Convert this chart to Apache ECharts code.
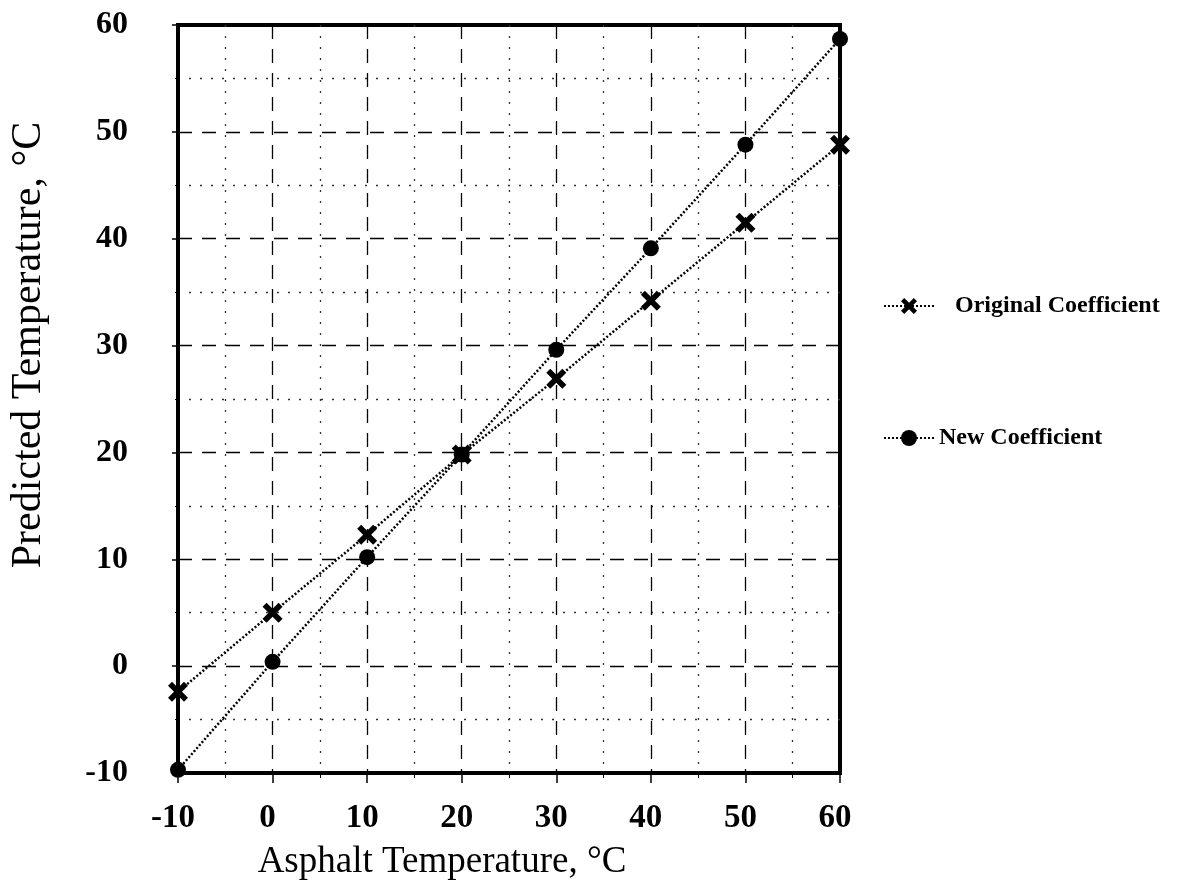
<!DOCTYPE html>
<html>
<head>
<meta charset="utf-8">
<script src="https://cdn.jsdelivr.net/npm/echarts@6/dist/echarts.min.js"></script>
<style>
    html, body { margin: 0; padding: 0; background: #fff; }
    #chart { width: 1185px; height: 888px; }
</style>
</head>
<body>
<div id="chart"></div>
<script>
// asphalt temperature (x) and the two predicted series
var asphaltTemp = [-10, 0, 10, 20, 30, 40, 50, 60];
var originalCoef = [-2.4, 5.0, 12.3, 19.8, 26.9, 34.2, 41.5, 48.8];
var newCoef = [-9.7, 0.4, 10.2, 19.8, 29.6, 39.1, 48.8, 58.7];
var seriesNames = ['Original Coefficient', 'New Coefficient'];

// thick "x" marker like the scanned figure
var crossPath = 'path://M0,2 L2,0 L5,3 L8,0 L10,2 L7,5 L10,8 L8,10 L5,7 L2,10 L0,8 L3,5 Z';

function pairs(ys) {
    return asphaltTemp.map(function (x, i) { return [x, ys[i]]; });
}

var chart = echarts.init(document.getElementById('chart'));

var fontFam = '"Liberation Serif", "Times New Roman", serif';

var legendText = {
    fontFamily: fontFam,
    fontWeight: 'bold',
    fontSize: 24,
    color: '#000'
};

var option = {
    animation: false,
    backgroundColor: '#fff',
    grid: {
        left: 177,
        right: 345,
        top: 25,
        bottom: 115,
        show: true,
        borderColor: '#000',
        borderWidth: 4
    },
    legend: [
        {
            left: 878,
            top: 289,
            itemWidth: 50,
            itemHeight: 20,
            textStyle: Object.assign({ padding: [0, 0, 0, 16] }, legendText),
            data: [seriesNames[0]]
        },
        {
            left: 878,
            top: 421,
            itemWidth: 50,
            itemHeight: 20,
            textStyle: legendText,
            data: [seriesNames[1]]
        }
    ],
    xAxis: {
        type: 'value',
        min: -10,
        max: 60,
        interval: 10,
        name: 'Asphalt Temperature, \u00B0C',
        nameLocation: 'middle',
        nameGap: 71,
        nameTextStyle: { fontFamily: fontFam, fontSize: 37, color: '#000', padding: [0, 134, 0, 0] },
        axisLine: { show: true, onZero: false, lineStyle: { color: '#000', width: 4 } },
        axisTick: { show: true, inside: false, length: 10, lineStyle: { color: '#000', width: 1.5 } },
        minorTick: { show: true, splitNumber: 2, length: 5, lineStyle: { color: '#000' } },
        axisLabel: {
            margin: 29,
            fontFamily: fontFam,
            fontWeight: 'bold',
            fontSize: 33,
            color: '#000',
            padding: [0, 10, 0, 0]
        },
        splitLine: { show: true, lineStyle: { color: '#000', type: [14, 10], width: 1.3 } },
        minorSplitLine: { show: true, lineStyle: { color: '#333', type: [2, 9], width: 1.3 } }
    },
    yAxis: {
        type: 'value',
        min: -10,
        max: 60,
        interval: 10,
        name: 'Predicted Temperature, \u00B0C',
        nameLocation: 'middle',
        nameGap: 128,
        nameTextStyle: { fontFamily: fontFam, fontSize: 42, color: '#000', padding: [0, 0, 0, 108] },
        axisLine: { show: true, onZero: false, lineStyle: { color: '#000', width: 4 } },
        axisTick: { show: true, length: 6, lineStyle: { color: '#000', width: 1.5 } },
        minorTick: { show: true, splitNumber: 2, length: 3, lineStyle: { color: '#000' } },
        axisLabel: {
            margin: 50,
            fontFamily: fontFam,
            fontWeight: 'bold',
            fontSize: 32,
            color: '#000'
        },
        splitLine: { show: true, lineStyle: { color: '#000', type: [14, 10], width: 1.3 } },
        minorSplitLine: { show: true, lineStyle: { color: '#333', type: [2, 9], width: 1.3 } }
    },
    series: [
        {
            name: seriesNames[0],
            type: 'line',
            data: pairs(originalCoef),
            symbol: crossPath,
            symbolSize: 20,
            itemStyle: { color: '#000' },
            lineStyle: { color: '#000', width: 2.5, type: [2, 2] },
            z: 5
        },
        {
            name: seriesNames[1],
            type: 'line',
            data: pairs(newCoef),
            symbol: 'circle',
            symbolSize: 16,
            itemStyle: { color: '#000' },
            lineStyle: { color: '#000', width: 2.5, type: [2, 2] },
            z: 5
        }
    ]
};

chart.setOption(option);
window.addEventListener('resize', function () {
    chart.resize();
});
</script>
</body>
</html>
